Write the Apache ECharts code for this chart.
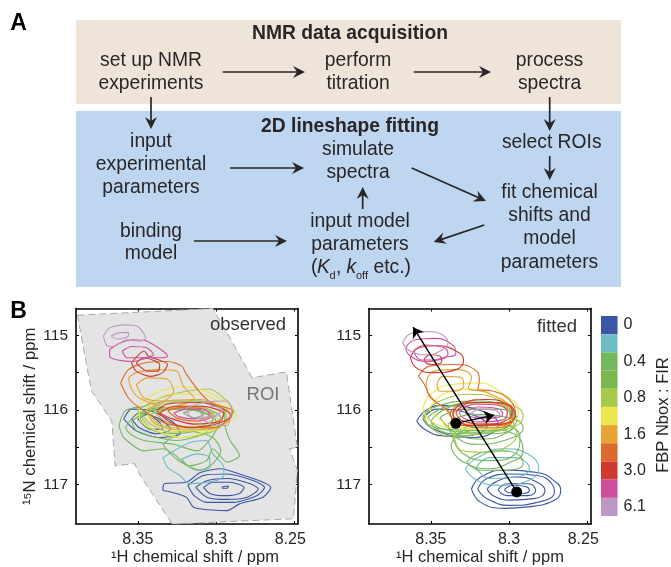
<!DOCTYPE html>
<html><head><meta charset="utf-8">
<style>html,body{margin:0;padding:0;background:#fff}#c{width:671px;height:567px}</style>
<script src="https://cdn.jsdelivr.net/npm/echarts@6/dist/echarts.min.js"></script>
</head><body><div id="c"></div>
<script>
const colorBarLabels = ['0','','0.4','','0.8','','1.6','','3.0','','6.1'];
const colorBarColors = ['#3a56a5','#6fbdc4','#74b85e','#7ab84e','#a8c84a','#ece84e','#e6a434','#dc6a2e','#cf3a30','#cf4e9c','#bf97c6'];
const xTicks = [8.25,8.3,8.35];
const yTickMarks = [115,115.5,116,116.5,117];
const yTickLabels = [115,116,117];

const roi = [[8.3886,114.73],[8.302,114.64],[8.291,115.04],[8.277,115.57],[8.255,115.49],[8.248,116.50],[8.253,116.52],[8.248,116.81],[8.2505,117.46],[8.328,117.53],[8.349,116.86],[8.352,116.72],[8.3645,116.75],[8.3666,116.15],[8.3794,115.75],[8.382,115.48]];

const obsBlue = [
 [[8.334,117.08],[8.333,116.99],[8.319,116.97],[8.31,116.84],[8.297,116.79],[8.285,116.86],[8.27,116.97],[8.265,117.04],[8.27,117.17],[8.285,117.26],[8.293,117.35],[8.314,117.31],[8.319,117.17],[8.329,117.10]],
 [[8.318,117.01],[8.308,116.88],[8.293,116.86],[8.276,116.95],[8.269,117.04],[8.274,117.15],[8.289,117.24],[8.306,117.24],[8.314,117.15]],
 [[8.313,117.04],[8.306,116.95],[8.293,116.92],[8.278,116.99],[8.273,117.06],[8.28,117.17],[8.293,117.2],[8.306,117.17]],
 [[8.308,117.04],[8.302,116.97],[8.291,116.97],[8.282,117.04],[8.285,117.12],[8.295,117.15],[8.304,117.12]],
 [[8.296,117.03],[8.292,117.02],[8.293,117.05],[8.296,117.05]],
 [[8.359,116.12],[8.354,115.99],[8.342,116.01],[8.327,116.17],[8.323,116.32],[8.336,116.37],[8.351,116.28]],
 [[8.354,116.12],[8.349,116.04],[8.336,116.12],[8.329,116.26],[8.338,116.32],[8.349,116.24]],
 [[8.35,116.12],[8.344,116.06],[8.336,116.17],[8.334,116.26],[8.342,116.26]]
];
const obsTeal = [
 [[8.334,116.64],[8.327,116.55],[8.317,116.44],[8.306,116.41],[8.302,116.59],[8.295,116.77],[8.295,116.88],[8.3,116.95],[8.317,116.99],[8.323,116.88],[8.331,116.77]],
 [[8.322,116.66],[8.312,116.59],[8.304,116.64],[8.304,116.77],[8.312,116.81],[8.318,116.75]]
];
const obsGreen = [
 [[8.362,116.21],[8.358,116.01],[8.346,115.95],[8.331,115.88],[8.312,115.88],[8.295,116.01],[8.294,116.24],[8.291,116.41],[8.285,116.61],[8.293,116.70],[8.302,116.52],[8.306,116.68],[8.317,116.75],[8.327,116.59],[8.334,116.52],[8.346,116.55],[8.359,116.37]],
 [[8.358,116.24],[8.351,116.06],[8.336,115.97],[8.31,115.97],[8.297,116.10],[8.3,116.28],[8.308,116.50],[8.312,116.55],[8.327,116.46],[8.346,116.41],[8.355,116.32]],
 [[8.354,116.15],[8.342,116.01],[8.319,115.99],[8.302,116.12],[8.306,116.30],[8.325,116.41],[8.342,116.35],[8.351,116.28]],
 [[8.334,116.46],[8.319,116.28],[8.302,116.37],[8.297,116.55],[8.302,116.72],[8.31,116.81],[8.321,116.72],[8.329,116.59]],
 [[8.349,116.10],[8.338,115.99],[8.314,115.99],[8.3,116.15],[8.312,116.28],[8.331,116.32],[8.344,116.24]],
 [[8.321,116.04],[8.314,116.0],[8.308,116.06],[8.314,116.11]]
];
const obsLime = [
 [[8.35,116.01],[8.338,115.86],[8.319,115.75],[8.304,115.72],[8.293,115.88],[8.289,116.01],[8.293,116.17],[8.306,116.32],[8.325,116.37],[8.342,116.24]],
 [[8.348,116.04],[8.334,115.92],[8.31,115.88],[8.295,115.99],[8.293,116.15],[8.31,116.26],[8.329,116.30],[8.342,116.19]],
 [[8.342,116.06],[8.327,115.97],[8.308,115.97],[8.3,116.10],[8.31,116.21],[8.327,116.24],[8.338,116.17]]
];
const obsYellow = [
 [[8.349,115.92],[8.336,115.75],[8.319,115.69],[8.302,115.79],[8.289,115.99],[8.287,116.08],[8.3,116.24],[8.321,116.37],[8.338,116.28],[8.349,116.12]],
 [[8.344,115.97],[8.331,115.79],[8.31,115.79],[8.293,115.97],[8.291,116.10],[8.306,116.28],[8.327,116.28],[8.342,116.15]]
];
const obsOrange = [
 [[8.356,115.57],[8.351,115.50],[8.338,115.46],[8.325,115.48],[8.321,115.68],[8.314,115.84],[8.331,115.97],[8.349,115.84],[8.354,115.72]],
 [[8.351,115.66],[8.344,115.57],[8.331,115.59],[8.327,115.75],[8.334,115.88],[8.346,115.84]],
 [[8.344,115.99],[8.331,115.88],[8.31,115.86],[8.293,115.99],[8.291,116.12],[8.306,116.26],[8.327,116.26],[8.34,116.17]],
 [[8.338,116.06],[8.325,115.95],[8.308,115.95],[8.295,116.06],[8.302,116.19],[8.319,116.24],[8.331,116.17]]
];
const obsDarkOrange = [
 [[8.361,115.64],[8.356,115.46],[8.346,115.37],[8.331,115.35],[8.322,115.41],[8.319,115.52],[8.31,115.77],[8.302,115.92],[8.289,116.01],[8.3,116.24],[8.331,116.19],[8.349,115.97],[8.356,115.84]],
 [[8.331,116.01],[8.323,115.97],[8.308,115.99],[8.302,116.08],[8.312,116.15],[8.325,116.11]]
];
const obsRed = [
 [[8.354,115.37],[8.346,115.21],[8.343,115.28],[8.331,115.39],[8.334,115.50],[8.342,115.55],[8.351,115.48]],
 [[8.351,115.37],[8.346,115.30],[8.336,115.39],[8.337,115.48],[8.344,115.48]],
 [[8.338,116.01],[8.331,115.92],[8.31,115.90],[8.295,115.99],[8.29,116.08],[8.3,116.19],[8.317,116.24],[8.329,116.17]],
 [[8.336,116.04],[8.327,115.95],[8.31,115.95],[8.295,116.04],[8.297,116.15],[8.314,116.19],[8.328,116.12]]
];
const obsPink = [
 [[8.368,115.19],[8.361,115.10],[8.353,115.06],[8.344,115.08],[8.331,115.28],[8.334,115.30],[8.342,115.30],[8.353,115.35],[8.363,115.33],[8.368,115.28]],
 [[8.36,115.21],[8.354,115.15],[8.344,115.17],[8.34,115.26],[8.346,115.30],[8.357,115.30]],
 [[8.327,116.04],[8.319,115.99],[8.306,116.01],[8.304,116.08],[8.314,116.12],[8.324,116.09]]
];
const obsMauve = [
 [[8.372,115.01],[8.368,114.90],[8.359,114.86],[8.35,114.88],[8.345,115.04],[8.349,115.08],[8.357,115.06],[8.366,115.15],[8.37,115.13]],
 [[8.367,115.01],[8.363,114.97],[8.356,114.96],[8.356,115.01],[8.363,115.05]],
 [[8.319,115.97],[8.306,115.89],[8.293,115.88],[8.29,115.99],[8.293,116.21],[8.3,116.21],[8.31,116.12],[8.317,116.08]],
 [[8.31,116.01],[8.302,115.95],[8.296,115.99],[8.3,116.08],[8.308,116.10]]
];

const fitBlue = [
 [[8.359,116.15],[8.352,115.99],[8.342,115.94],[8.318,116.01],[8.307,116.19],[8.322,116.37],[8.342,116.35],[8.354,116.26]],
 [[8.355,116.12],[8.346,115.99],[8.324,116.06],[8.314,116.21],[8.329,116.35],[8.348,116.26]],
 [[8.324,117.06],[8.318,116.90],[8.303,116.81],[8.282,116.84],[8.27,116.97],[8.267,117.08],[8.271,117.21],[8.288,117.30],[8.303,117.32],[8.318,117.24]],
 [[8.32,117.06],[8.314,116.92],[8.299,116.86],[8.282,116.88],[8.272,117.01],[8.271,117.10],[8.282,117.24],[8.299,117.28],[8.314,117.19]],
 [[8.314,117.06],[8.307,116.95],[8.295,116.90],[8.282,116.97],[8.277,117.08],[8.284,117.19],[8.299,117.21],[8.31,117.15]],
 [[8.307,117.07],[8.301,116.99],[8.288,116.99],[8.283,117.08],[8.288,117.15],[8.301,117.15]],
 [[8.303,117.07],[8.297,117.01],[8.289,117.03],[8.287,117.08],[8.292,117.12],[8.3,117.11]]
];
const fitTeal = [
 [[8.328,116.79],[8.32,116.64],[8.303,116.52],[8.288,116.59],[8.281,116.79],[8.288,116.95],[8.305,117.01],[8.32,116.95]],
 [[8.321,116.77],[8.312,116.64],[8.297,116.64],[8.287,116.79],[8.295,116.90],[8.312,116.92]]
];
const fitGreen = [
 [[8.337,116.46],[8.331,116.32],[8.314,116.26],[8.297,116.32],[8.291,116.55],[8.301,116.72],[8.314,116.79],[8.327,116.72],[8.335,116.59]],
 [[8.339,116.19],[8.324,116.06],[8.301,116.10],[8.291,116.24],[8.303,116.41],[8.32,116.46],[8.335,116.35]],
 [[8.35,116.15],[8.339,115.97],[8.318,115.90],[8.297,116.01],[8.297,116.21],[8.314,116.32],[8.333,116.32],[8.346,116.26]],
 [[8.355,116.08],[8.346,115.95],[8.322,115.88],[8.301,115.99],[8.299,116.17],[8.318,116.28],[8.339,116.26],[8.352,116.19]],
 [[8.327,116.70],[8.32,116.59],[8.305,116.55],[8.295,116.59],[8.291,116.72],[8.303,116.81],[8.318,116.81]],
 [[8.352,116.10],[8.339,115.95],[8.316,115.90],[8.299,116.04],[8.301,116.21],[8.322,116.30],[8.342,116.26]],
 [[8.344,116.10],[8.329,115.99],[8.307,115.99],[8.295,116.12],[8.301,116.30],[8.318,116.39],[8.335,116.30]],
 [[8.336,116.37],[8.324,116.24],[8.305,116.21],[8.293,116.37],[8.296,116.59],[8.312,116.68],[8.329,116.59]]
];
const fitLime = [
 [[8.354,116.06],[8.346,115.90],[8.324,115.79],[8.305,115.88],[8.291,116.08],[8.295,116.21],[8.312,116.30],[8.335,116.35],[8.35,116.24]],
 [[8.335,116.30],[8.322,116.21],[8.303,116.19],[8.295,116.32],[8.299,116.46],[8.314,116.57],[8.329,116.55],[8.334,116.44]]
];
const fitYellow = [
 [[8.355,115.99],[8.35,115.79],[8.337,115.66],[8.32,115.64],[8.305,115.77],[8.294,116.01],[8.298,116.17],[8.314,116.26],[8.335,116.24],[8.35,116.15]],
 [[8.351,115.99],[8.342,115.79],[8.324,115.72],[8.307,115.84],[8.298,116.01],[8.301,116.17],[8.318,116.26],[8.337,116.21]]
];
const fitOrange = [
 [[8.353,115.64],[8.348,115.48],[8.333,115.46],[8.324,115.57],[8.326,115.70],[8.314,115.77],[8.301,115.97],[8.307,116.19],[8.329,116.19],[8.342,115.97],[8.351,115.79]],
 [[8.346,115.66],[8.342,115.55],[8.33,115.57],[8.329,115.68],[8.337,115.75],[8.344,115.75]],
 [[8.336,116.06],[8.329,115.95],[8.312,115.92],[8.298,116.04],[8.301,116.17],[8.318,116.21],[8.332,116.17]]
];
const fitDarkOrange = [
 [[8.358,115.55],[8.35,115.41],[8.335,115.39],[8.322,115.46],[8.319,115.61],[8.32,115.72],[8.31,115.75],[8.299,115.88],[8.296,116.06],[8.307,116.21],[8.333,116.21],[8.339,116.01],[8.35,115.84],[8.354,115.66]],
 [[8.338,116.06],[8.331,115.92],[8.314,115.90],[8.298,115.99],[8.298,116.15],[8.312,116.24],[8.329,116.21]]
];
const fitRed = [
 [[8.363,115.30],[8.358,115.17],[8.346,115.14],[8.334,115.21],[8.329,115.33],[8.334,115.46],[8.348,115.50],[8.359,115.44]],
 [[8.354,115.31],[8.35,115.26],[8.344,115.28],[8.343,115.35],[8.349,115.39],[8.353,115.37]],
 [[8.336,116.04],[8.329,115.90],[8.314,115.86],[8.299,115.95],[8.296,116.08],[8.305,116.19],[8.322,116.21],[8.333,116.15]],
 [[8.334,116.04],[8.324,115.90],[8.31,115.90],[8.298,116.01],[8.3,116.12],[8.314,116.19],[8.329,116.15]]
];
const fitPink = [
 [[8.366,115.17],[8.36,115.06],[8.348,115.04],[8.336,115.13],[8.334,115.24],[8.342,115.30],[8.352,115.35],[8.363,115.28]],
 [[8.361,115.21],[8.353,115.13],[8.344,115.15],[8.339,115.24],[8.346,115.33],[8.356,115.33]],
 [[8.332,116.04],[8.322,115.92],[8.31,115.93],[8.301,116.04],[8.305,116.14],[8.318,116.16],[8.329,116.11]],
 [[8.328,116.04],[8.32,115.96],[8.31,115.97],[8.304,116.05],[8.31,116.11],[8.32,116.11]]
];
const fitMauve = [
 [[8.368,115.10],[8.362,114.97],[8.351,114.95],[8.343,114.99],[8.339,115.10],[8.344,115.21],[8.352,115.26],[8.363,115.21]],
 [[8.324,116.04],[8.318,115.99],[8.31,116.0],[8.306,116.06],[8.312,116.09],[8.32,116.08]]
];

const fitDots = [[8.334,116.18],[8.2951,117.10]];
const fitArrows = [
 [[8.2951,117.10],[8.3613,114.89]],
 [[8.334,116.18],[8.3095,116.07]]
];

const FONT = '"Liberation Sans", Arial, sans-serif';
const INK = '#2a2527';
const xMin = 8.2476, xMax = 8.3895, yMin = 114.64, yMax = 117.53;

function contourSeries(groups, xi, yi, smooth) {
  const out = [];
  groups.forEach(([contours, color]) => contours.forEach(c => out.push({
    type: 'line', xAxisIndex: xi, yAxisIndex: yi, data: c.concat([c[0]]),
    showSymbol: false, symbol: 'none', smooth: smooth, silent: true,
    lineStyle: { color: color, width: 1.1 }, z: 3
  })));
  return out;
}
const C = colorBarColors;
const obsGroups = [[obsBlue,C[0]],[obsTeal,C[1]],[obsGreen,C[2]],[obsLime,C[4]],[obsYellow,C[5]],[obsOrange,C[6]],[obsDarkOrange,C[7]],[obsRed,C[8]],[obsPink,C[9]],[obsMauve,C[10]]];
const fitGroups = [[fitBlue,C[0]],[fitTeal,C[1]],[fitGreen,C[2]],[fitLime,C[4]],[fitYellow,C[5]],[fitOrange,C[6]],[fitDarkOrange,C[7]],[fitRed,C[8]],[fitPink,C[9]],[fitMauve,C[10]]];

function xAx(grid, main, namePad) {
  return { type:'value', gridIndex:grid, inverse:true, min:xMin, max:xMax, position: main?'bottom':'top',
    name: main?'\u00B9H chemical shift / ppm':'', nameLocation:'middle', nameGap:25,
    nameTextStyle:{fontFamily:FONT,fontSize:16.5,color:INK,padding:namePad||0},
    splitLine:{show:false},
    axisLine:{show:true,onZero:false,lineStyle:{color:'#000',width:1.6}},
    axisTick:{show:true,inside:true,length:3,customValues:xTicks,lineStyle:{color:'#000',width:1}},
    axisLabel:{show:main,customValues:xTicks,margin:8,fontFamily:FONT,fontSize:16,color:INK,
      formatter:v=>v===8.25?'{s|8.25}':String(v),
      rich:{s:{fontFamily:FONT,fontSize:16,color:INK,padding:[0,8,0,0]}}} };
}
function yAx(grid, main, named) {
  return { type:'value', gridIndex:grid, inverse:true, min:yMin, max:yMax, position: main?'left':'right',
    name: named?'\u00B9\u2075N chemical shift / ppm':'', nameLocation:'middle', nameGap:37,
    nameTextStyle:{fontFamily:FONT,fontSize:16.8,color:INK},
    splitLine:{show:false},
    axisLine:{show:true,onZero:false,lineStyle:{color:'#000',width:1.6}},
    axisTick:{show:true,inside:true,length:3,customValues:yTickMarks,lineStyle:{color:'#000',width:1}},
    axisLabel:{show:main,customValues:yTickLabels,margin:8,fontFamily:FONT,fontSize:15.5,color:INK} };
}

function arrow(x1,y1,x2,y2) {
  const a = Math.atan2(y2-y1,x2-x1), L = 12, W = 6, N = 8;
  const pt = (d,s) => [x2 - d*Math.cos(a) - s*Math.sin(a), y2 - d*Math.sin(a) + s*Math.cos(a)];
  return [
    {type:'line',z:5,shape:{x1,y1,x2:pt(6,0)[0],y2:pt(6,0)[1]},style:{stroke:INK,lineWidth:1.7},silent:true},
    {type:'polygon',z:5,shape:{points:[[x2,y2],pt(L,W),pt(N,0),pt(L,-W)]},style:{fill:INK},silent:true}
  ];
}
function label(x,y,text,o,extra) {
  return Object.assign({type:'text',x,y,z:100,silent:true,style:Object.assign({text,fill:INK,fontFamily:FONT,fontSize:19.3,align:'center',verticalAlign:'middle'},o||{})},extra||{});
}
const diagramArrows = [[222.7,72,305,72],[413.7,72,491,72],[151,97,151,129],[549.7,97,549.7,131],[549.7,156,549.7,180],[230,168,304,168],[411.7,168,486,201],[362.7,209,362.7,187],[194,241,287,241],[484.3,225,433.7,242]];
const bold = {fontWeight:'bold',fontSize:19.3};
const graphics = [
  {type:'rect',shape:{x:76,y:20,width:545,height:84},style:{fill:'#efe4da'},silent:true,z:-1},
  {type:'rect',shape:{x:76,y:111,width:545,height:176},style:{fill:'#bed6ef'},silent:true,z:-1},
  label(18.5,24,'A',{fontWeight:'bold',fontSize:23,fill:'#000'}),
  label(18.5,312,'B',{fontWeight:'bold',fontSize:23,fill:'#000'}),
  label(350,34,'NMR data acquisition',bold),
  label(350,127,'2D lineshape fitting',bold),
  label(151,61,'set up NMR'),label(151,84,'experiments'),
  label(358,61,'perform'),label(358,84,'titration'),
  label(549.5,61,'process'),label(549.5,84,'spectra'),
  label(151,142,'input'),label(151,165,'experimental'),label(151,188,'parameters'),
  label(358,150,'simulate'),label(358,173,'spectra'),
  label(551.7,143,'select ROIs'),
  label(549.5,193,'fit chemical'),label(549.5,216,'shifts and'),label(549.5,239,'model'),label(549.5,263,'parameters'),
  label(151,232,'binding'),label(151,254,'model'),
  label(360,222,'input model'),label(360,245,'parameters'),
  label(311,268,'(',{align:'left'}),label(317,268,'K',{align:'left',fontStyle:'italic'}),label(329.5,276,'d',{align:'left',fontSize:11}),
  label(336,268,',',{align:'left'}),label(346.5,268,'k',{align:'left',fontStyle:'italic'}),label(356,276,'off',{align:'left',fontSize:11}),
  label(373.5,268,'etc.)',{align:'left'}),
  label(248,325,'observed',{fontSize:18.5,fill:'#333'}),
  label(263,395,'ROI',{fontSize:18.5,fill:'#777'}),
  label(557,327,'fitted',{fontSize:18.5,fill:'#333'}),
  label(663,415,'FBP Nbox : FIR',{fontSize:16.5},{rotation:Math.PI/2})
];
diagramArrows.forEach(a => graphics.push(...arrow(...a)));

const option = {
  animation:false,
  backgroundColor:'#fff',
  textStyle:{fontFamily:FONT},
  grid:[
    {left:76,top:308.5,width:222,height:217},
    {left:369,top:308.5,width:222,height:217},
    {left:601,top:316,width:19,height:200}
  ],
  xAxis:[xAx(0,true,[0,0,0,16]),xAx(0,false),xAx(1,true),xAx(1,false),
    {type:'value',gridIndex:2,min:0,max:1,show:false}],
  yAxis:[yAx(0,true,true),yAx(0,false,false),yAx(1,true,false),yAx(1,false,false),
    {type:'category',gridIndex:2,inverse:true,data:colorBarLabels.map((l,i)=>({value:l||' '.repeat(i+1)})),
      axisLine:{show:false},axisTick:{show:false},position:'right',
      axisLabel:{interval:0,margin:6,fontFamily:FONT,fontSize:16,color:INK}}],
  series:[
    {type:'custom',xAxisIndex:0,yAxisIndex:0,data:roi,silent:true,z:1,
     renderItem:(p,api)=>p.dataIndex!==0?null:({type:'polygon',shape:{points:roi.map(d=>api.coord(d))},
       style:{fill:'#e4e4e4',stroke:'#a8a8a8',lineWidth:1,lineDash:[7,4]}})},
    ...contourSeries(obsGroups,0,0,0.25),
    ...contourSeries(fitGroups,2,2,0.5),
    {type:'lines',coordinateSystem:'cartesian2d',xAxisIndex:2,yAxisIndex:2,z:5,silent:true,
     symbol:['none','arrow'],symbolSize:10,lineStyle:{color:'#000',width:1.4,opacity:1},
     data:fitArrows.map(c=>({coords:c}))},
    {type:'scatter',xAxisIndex:2,yAxisIndex:2,z:6,silent:true,symbolSize:11,itemStyle:{color:'#000',opacity:1},data:fitDots},
    {type:'bar',xAxisIndex:4,yAxisIndex:4,barWidth:'100%',silent:true,
     data:colorBarColors.map(c=>({value:1,itemStyle:{color:c}}))}
  ],
  graphic:{elements:graphics}
};
echarts.init(document.getElementById('c'),null,{renderer:'canvas'}).setOption(option);
</script></body></html>
